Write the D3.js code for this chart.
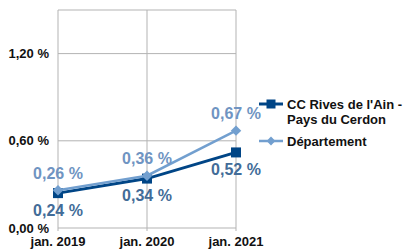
<!DOCTYPE html>
<html lang="fr">
<head>
<meta charset="UTF-8">
<script src="https://d3js.org/d3.v7.min.js"></script>
<style>
  body { margin: 0; background: #fff; }
  text { font-family: "Liberation Sans", Arial, sans-serif; font-weight: bold; }
</style>
</head>
<body>
<div id="chart"></div>
<script>
// data
const categories = ["jan. 2019", "jan. 2020", "jan. 2021"];
const ccValues = [0.24, 0.34, 0.52];
const deptValues = [0.26, 0.36, 0.67];
const yTicks = [0, 0.6, 1.2];
const seriesNames = ["CC Rives de l'Ain -|Pays du Cerdon", "Département"];

const W = 408, H = 251;
const margin = { top: 10, right: 172, bottom: 23, left: 58 };
const width = W - margin.left - margin.right;
const height = H - margin.top - margin.bottom;

const svg = d3.select("#chart").append("svg").attr("width", W).attr("height", H);
const g = svg.append("g").attr("transform", `translate(${margin.left},${margin.top})`);

const x = d3.scalePoint().domain(categories).range([0, width]);
const y = d3.scaleLinear().domain([0, 1.5]).range([height, 0]);

const fmt = v => d3.format(".2f")(v).replace(".", ",") + " %";
const gridCol = "#b3b3b3";

// horizontal grid
g.selectAll(".hgrid").data(yTicks).enter().append("line")
  .attr("x1", 0).attr("x2", width)
  .attr("y1", d => y(d)).attr("y2", d => y(d))
  .attr("stroke", gridCol).attr("stroke-width", 1);
// vertical grid / frame
g.selectAll(".vgrid").data(categories).enter().append("line")
  .attr("x1", d => x(d)).attr("x2", d => x(d))
  .attr("y1", 0).attr("y2", height + 3)
  .attr("stroke", gridCol).attr("stroke-width", 1);
g.append("line").attr("x1", 0).attr("x2", width).attr("y1", 0).attr("y2", 0)
  .attr("stroke", gridCol);

// y labels
g.selectAll(".ylab").data(yTicks).enter().append("text")
  .attr("x", -9).attr("y", d => y(d)).attr("dy", "0.35em")
  .attr("text-anchor", "end").attr("font-size", 13).attr("fill", "#111")
  .text(fmt);
// x labels
g.selectAll(".xlab").data(categories).enter().append("text")
  .attr("x", d => x(d)).attr("y", height + 18)
  .attr("text-anchor", "middle").attr("font-size", 13).attr("fill", "#111")
  .text(d => d);

const line = d3.line().x((d, i) => x(categories[i])).y(d => y(d));

// CC series
g.append("path").datum(ccValues).attr("d", line)
  .attr("fill", "none").attr("stroke", "#004586").attr("stroke-width", 3);
g.selectAll(".ccm").data(ccValues).enter().append("rect")
  .attr("x", (d, i) => x(categories[i]) - 5).attr("y", d => y(d) - 5)
  .attr("width", 10).attr("height", 10).attr("fill", "#004586");

// Dept series
g.append("path").datum(deptValues).attr("d", line)
  .attr("fill", "none").attr("stroke", "#729fcf").attr("stroke-width", 2.5);
const diamond = d3.symbol().type(d3.symbolDiamond2).size(70);
g.selectAll(".dm").data(deptValues).enter().append("path")
  .attr("d", diamond)
  .attr("transform", (d, i) => `translate(${x(categories[i])},${y(d)})`)
  .attr("fill", "#729fcf");

// data labels
g.selectAll(".dl").data(deptValues).enter().append("text")
  .attr("x", (d, i) => x(categories[i])).attr("y", d => y(d) - 17).attr("dy", "0.35em")
  .attr("text-anchor", "middle").attr("font-size", 16).attr("fill", "#6f94c2")
  .text(fmt);
g.selectAll(".cl").data(ccValues).enter().append("text")
  .attr("x", (d, i) => x(categories[i])).attr("y", d => y(d) + 17).attr("dy", "0.35em")
  .attr("text-anchor", "middle").attr("font-size", 16).attr("fill", "#426c98")
  .text(fmt);

// legend
const lg = svg.append("g").attr("transform", "translate(259,104)");
lg.append("line").attr("x1", 0).attr("x2", 24).attr("y1", 0).attr("y2", 0)
  .attr("stroke", "#004586").attr("stroke-width", 3);
lg.append("rect").attr("x", 7.5).attr("y", -4.5).attr("width", 9).attr("height", 9).attr("fill", "#004586");
const t1 = lg.append("text").attr("x", 28).attr("y", 0).attr("font-size", 13).attr("fill", "#111");
seriesNames[0].split("|").forEach((s, i) => {
  t1.append("tspan").attr("x", 28).attr("dy", i === 0 ? "0.35em" : "15").text(s);
});
lg.append("line").attr("x1", 0).attr("x2", 24).attr("y1", 37).attr("y2", 37)
  .attr("stroke", "#729fcf").attr("stroke-width", 2.5);
lg.append("path").attr("d", d3.symbol().type(d3.symbolDiamond2).size(50))
  .attr("transform", "translate(12,37)").attr("fill", "#729fcf");
lg.append("text").attr("x", 28).attr("y", 37).attr("dy", "0.35em")
  .attr("font-size", 13).attr("fill", "#111").text(seriesNames[1]);
</script>
</body>
</html>
